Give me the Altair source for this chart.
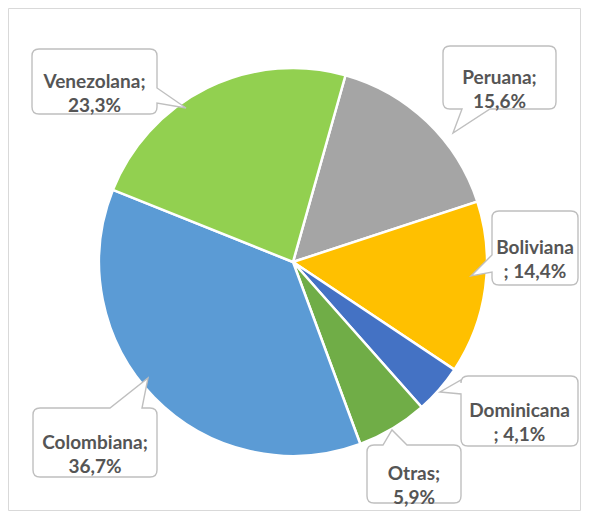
import math
import altair as alt
import pandas as pd

# ---- data ----
categories = ["Peruana", "Boliviana", "Dominicana", "Otras", "Colombiana", "Venezolana"]
values = [15.6, 14.4, 4.1, 5.9, 36.7, 23.3]
colors = ["#A5A5A5", "#FFC000", "#4472C4", "#70AD47", "#5B9BD5", "#92D050"]
# label style: True -> "Name;\nxx,x%", False -> "Name\n; xx,x%"
semicolon_first_line = [True, False, False, True, True, True]

# ---- layout (page pixel coords) ----
ORIGIN = 8
W, H = 572, 502
pie_center = (293, 262)
pie_radius = 194
start_deg = 15.7
# callout boxes: (x0, y0, x1, y1), tip, side, base (b1, b2)
callouts = {
    "Peruana":    ((443, 46, 556, 109), (453, 133), "bottom", (462, 490)),
    "Boliviana":  ((492, 211, 578, 285), (471, 276), "left", (255, 272)),
    "Dominicana": ((461, 376, 578, 446), (440, 392), "left", (380, 394)),
    "Otras":      ((367, 445, 461, 503), (392, 430), "top", (383, 407)),
    "Colombiana": ((33, 408, 157, 477), (148, 378), "top", (110, 142)),
    "Venezolana": ((32, 49, 157, 114), (186, 108), "right", (88, 103)),
}
R = 7


def callout_path(box, tip, side, base):
    x0, y0, x1, y1 = box
    cx, cy = (x0 + x1) / 2, (y0 + y1) / 2
    x0, x1, y0, y1 = x0 - cx, x1 - cx, y0 - cy, y1 - cy
    tx, ty = tip[0] - cx, tip[1] - cy
    b1, b2 = base
    p = [f"M{x0+R},{y0}"]
    if side == "top":
        b1, b2 = b1 - cx, b2 - cx
        p += [f"L{b1},{y0}", f"L{tx},{ty}", f"L{b2},{y0}"]
    p += [f"L{x1-R},{y0}", f"Q{x1},{y0} {x1},{y0+R}"]
    if side == "right":
        b1, b2 = b1 - cy, b2 - cy
        p += [f"L{x1},{b1}", f"L{tx},{ty}", f"L{x1},{b2}"]
    p += [f"L{x1},{y1-R}", f"Q{x1},{y1} {x1-R},{y1}"]
    if side == "bottom":
        b1, b2 = b1 - cx, b2 - cx
        p += [f"L{b2},{y1}", f"L{tx},{ty}", f"L{b1},{y1}"]
    p += [f"L{x0+R},{y1}", f"Q{x0},{y1} {x0},{y1-R}"]
    if side == "left":
        b1, b2 = b1 - cy, b2 - cy
        p += [f"L{x0},{b2}", f"L{tx},{ty}", f"L{x0},{b1}"]
    p += [f"L{x0},{y0+R}", f"Q{x0},{y0} {x0+R},{y0}", "Z"]
    return " ".join(p), cx - ORIGIN, cy - ORIGIN


rows = []
for i, (c, v, semi) in enumerate(zip(categories, values, semicolon_first_line)):
    pct = f"{v:.1f}".replace(".", ",") + "%"
    label = [f"{c};", pct] if semi else [c, f"; {pct}"]
    path, bx, by = callout_path(*callouts[c])
    rows.append({"cat": c, "value": v, "order": i, "label": label,
                 "path": path, "bx": bx, "by": by})
df = pd.DataFrame(rows)

off = math.radians(start_deg)
pie = alt.Chart(df).mark_arc(
    outerRadius=pie_radius, stroke="white", strokeWidth=2.5
).encode(
    theta=alt.Theta("value:Q", stack=True, scale=alt.Scale(range=[off, off + 2 * math.pi])),
    order=alt.Order("order:Q"),
    color=alt.Color("cat:N", scale=alt.Scale(domain=categories, range=colors), legend=None),
    x=alt.value(pie_center[0] - ORIGIN),
    y=alt.value(pie_center[1] - ORIGIN),
)

boxes = alt.Chart(df).mark_point(
    size=4, filled=True, fill="white", stroke="#BFBFBF", strokeWidth=1.4, opacity=1
).encode(
    x=alt.X("bx:Q", scale=None, axis=None),
    y=alt.Y("by:Q", scale=None, axis=None),
    shape=alt.Shape("path:N", scale=None),
)

texts = alt.Chart(df).mark_text(
    font="Lato", fontWeight="bold", fontSize=19, color="#555555",
    align="center", baseline="middle", lineHeight=24
).encode(
    x=alt.X("bx:Q", scale=None, axis=None),
    y=alt.Y("by:Q", scale=None, axis=None),
    text="label",
)

chart = alt.layer(pie, boxes, texts).properties(
    width=W, height=H,
    padding={"left": 0, "top": 0, "right": 1, "bottom": 1},
    background="white",
    autosize=alt.AutoSizeParams(type="none"),
).configure_view(stroke="#D9D9D9", strokeWidth=1)

chart.save("out.html", embed_options={"renderer": "svg", "actions": False})
